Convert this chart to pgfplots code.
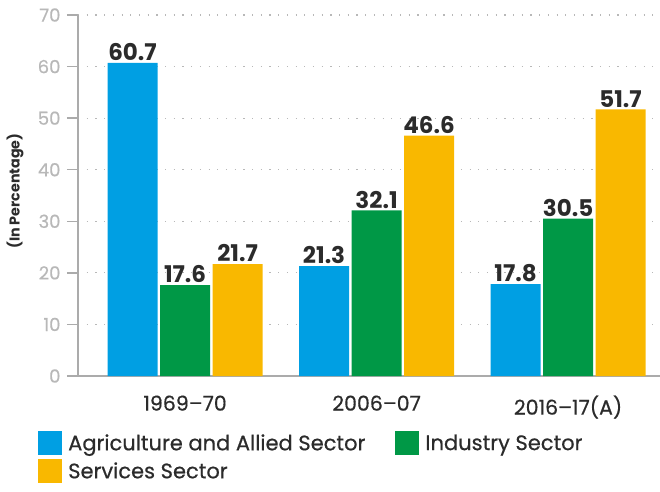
\documentclass[border=0pt]{standalone}
\usepackage{pgfplots}
\pgfplotsset{compat=1.18}
\usepackage{fontspec}
\setmainfont{Poppins}
\newfontfamily\medfont[FakeBold=0.5, Ligatures=TeX]{Poppins}
\definecolor{agri}{HTML}{009FE3}
\definecolor{ind}{HTML}{009846}
\definecolor{serv}{HTML}{F9B800}
\definecolor{txt}{HTML}{2B2B2B}
\definecolor{axisgray}{HTML}{ABABAB}
\definecolor{tickgray}{HTML}{B8B8B8}

\begin{document}
\begin{tikzpicture}
% page = 660 x 491, axis box lower left at pixel (78,376)
\useasboundingbox (-78pt,-115pt) rectangle (582pt,376pt);
\begin{axis}[
    at={(0pt,0pt)}, anchor=south west,
    scale only axis, width=582pt, height=361pt,
    ybar=2.5pt, bar width=50pt,
    xmin=-0.559, xmax=2.48, ymin=0, ymax=70,
    xtick={0,1,2}, xticklabels={1969--70,2006--07,2016--17(A)},
    ytick={0,10,...,70},
    axis x line*=bottom, axis y line*=left,
    axis line style={axisgray, line width=1.5pt, -},
    x tick style={draw=none},
    y tick style={axisgray, line width=1.5pt},
    tick align=outside, major tick length=11pt,
    ymajorgrids,
    grid style={tickgray, line width=1.2pt, dash pattern=on 1.2pt off 7.5pt},
    /pgf/number format/assume math mode=true,
    yticklabel style={tickgray, font=\medfont\fontsize{18}{20}\selectfont, xshift=-3pt},
    xticklabel style={txt, font=\medfont\fontsize{20.5}{23}\selectfont, yshift=-5pt},
    ylabel={(In Percentage)},
    ylabel style={at={(axis description cs:-0.108,0.512)}, anchor=center,
        font=\bfseries\fontsize{14.25}{17}\selectfont, txt},
    nodes near coords={\pgfmathprintnumber[fixed,fixed zerofill,precision=1]{\pgfplotspointmeta}},
    nodes near coords style={font=\bfseries\fontsize{23}{25}\selectfont, txt, inner sep=2pt},
    legend style={draw=none, fill=none, at={(axis description cs:-0.0687,-0.152)},
        anchor=north west, legend columns=2, font=\medfont\fontsize{21}{24}\selectfont,
        text=txt, row sep=4pt, inner sep=0pt,
        /tikz/every even column/.append style={column sep=27pt},
        nodes={inner sep=3pt}},
    legend cell align=left,
    legend image code/.code={\fill[#1] (0pt,-12pt) rectangle (24pt,12pt);},
]
\addplot[fill=agri, draw=none] coordinates {(0,60.7) (1,21.3) (2,17.8)};
\addlegendentry{\hspace{3pt}Agriculture and Allied Sector}
\addplot[fill=ind, draw=none] coordinates {(0,17.6) (1,32.1) (2,30.5)};
\addlegendentry{\hspace{3pt}Industry Sector}
\addplot[fill=serv, draw=none] coordinates {(0,21.7) (1,46.6) (2,51.7)};
\addlegendentry{\hspace{3pt}Services Sector}
\end{axis}
\end{tikzpicture}
\end{document}
